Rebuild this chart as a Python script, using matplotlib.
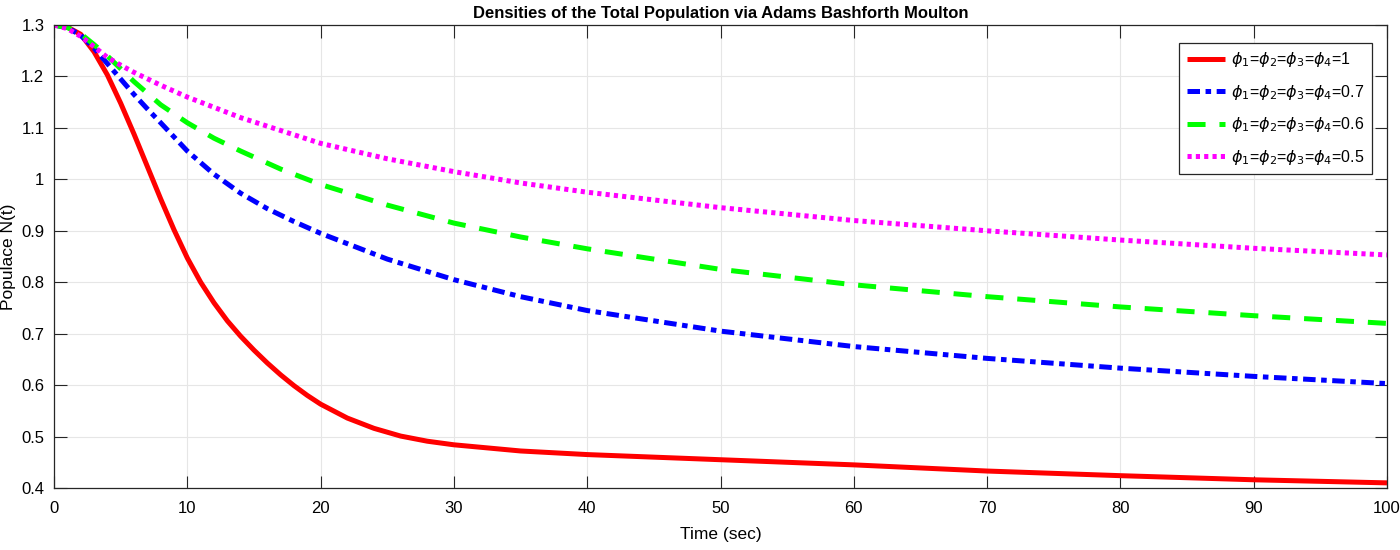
import matplotlib
matplotlib.use("Agg")
import matplotlib.pyplot as plt

plt.rcParams['font.family'] = ['Liberation Sans', 'DejaVu Sans']
plt.rcParams['lines.scale_dashes'] = False
plt.rcParams['mathtext.fontset'] = 'dejavusans'

t_red = [0, 1, 2, 3, 4, 5, 6, 7, 8, 9, 10, 11, 12, 13, 14, 15, 16, 17, 18, 19, 20, 22, 24, 26, 28, 30, 35, 40, 50, 60, 70, 80, 90, 100]
y_red = [1.30, 1.296, 1.282, 1.248, 1.203, 1.148, 1.088, 1.025, 0.962, 0.902, 0.847, 0.800, 0.760, 0.725, 0.695, 0.668, 0.643, 0.620, 0.599, 0.580, 0.563, 0.536, 0.516, 0.501, 0.491, 0.484, 0.472, 0.465, 0.455, 0.445, 0.433, 0.424, 0.416, 0.41]

t_blue = [0, 1, 2, 3, 4, 5, 6, 7, 8, 10, 12, 14, 16, 18, 20, 25, 30, 35, 40, 50, 60, 70, 80, 90, 100]
y_blue = [1.30, 1.295, 1.28, 1.255, 1.225, 1.195, 1.165, 1.137, 1.11, 1.055, 1.01, 0.973, 0.943, 0.918, 0.895, 0.845, 0.805, 0.772, 0.745, 0.705, 0.675, 0.652, 0.633, 0.617, 0.603]

t_green = [0, 1, 2, 3, 4, 5, 6, 8, 10, 12, 14, 17, 20, 25, 30, 35, 40, 50, 60, 70, 80, 90, 100]
y_green = [1.30, 1.295, 1.283, 1.262, 1.24, 1.215, 1.19, 1.145, 1.11, 1.08, 1.055, 1.02, 0.99, 0.95, 0.915, 0.888, 0.865, 0.825, 0.795, 0.772, 0.752, 0.735, 0.72]

t_mag = [0, 1, 2, 3, 4, 5, 6, 8, 10, 12, 14, 17, 20, 25, 30, 35, 40, 50, 60, 70, 80, 90, 100]
y_mag = [1.30, 1.293, 1.278, 1.258, 1.237, 1.222, 1.208, 1.183, 1.16, 1.14, 1.12, 1.095, 1.07, 1.04, 1.015, 0.993, 0.975, 0.945, 0.92, 0.90, 0.882, 0.866, 0.853]

labels = [r'$\phi_1$=$\phi_2$=$\phi_3$=$\phi_4$=1',
          r'$\phi_1$=$\phi_2$=$\phi_3$=$\phi_4$=0.7',
          r'$\phi_1$=$\phi_2$=$\phi_3$=$\phi_4$=0.6',
          r'$\phi_1$=$\phi_2$=$\phi_3$=$\phi_4$=0.5']

fig = plt.figure(figsize=(14, 5.5), dpi=100)
ax = fig.add_axes([0.0386, 0.1127, 0.9521, 0.8418])

lw = 3.6
ax.plot(t_red, y_red, color='#ff0000', lw=lw, label=labels[0], solid_capstyle='butt', solid_joinstyle='round')
ax.plot(t_blue, y_blue, color='#0000ff', lw=lw, linestyle=(0, (9, 4, 4, 4)), label=labels[1], dash_capstyle='butt')
ax.plot(t_green, y_green, color='#00ff00', lw=lw, linestyle=(0, (13, 10)), label=labels[2], dash_capstyle='butt')
ax.plot(t_mag, y_mag, color='#ff00ff', lw=lw, linestyle=(0, (3, 3)), label=labels[3], dash_capstyle='butt')

ax.set_xlim(0, 100)
ax.set_ylim(0.4, 1.3)
ax.set_xticks(range(0, 101, 10))
ax.set_yticks([0.4, 0.5, 0.6, 0.7, 0.8, 0.9, 1.0, 1.1, 1.2, 1.3])
ax.set_yticklabels(['0.4', '0.5', '0.6', '0.7', '0.8', '0.9', '1', '1.1', '1.2', '1.3'])
ax.tick_params(direction='in', top=True, right=True, labelsize=12, length=9, width=0.8, colors='#262626')
ax.tick_params(axis='both', labelcolor='black')
ax.tick_params(axis='x', pad=9)
ax.tick_params(axis='y', pad=7)
ax.grid(True, color='#e6e6e6', lw=0.8)
ax.set_axisbelow(True)
for s in ax.spines.values():
    s.set_color('#262626')
    s.set_linewidth(0.9)

ax.set_title('Densities of the Total Population via Adams Bashforth Moulton', fontsize=12, fontweight='bold', pad=5)
ax.set_xlabel('Time (sec)', fontsize=12.5, labelpad=8)
ax.set_ylabel('Populace N(t)', fontsize=12.5, labelpad=4)

leg = ax.legend(loc='upper right', bbox_to_anchor=(0.9887, 0.961), borderaxespad=0, fontsize=11.5, frameon=True,
                fancybox=False, edgecolor='#262626', framealpha=1, handlelength=2.4,
                handletextpad=0.4, labelspacing=0.85, borderpad=0.45)
leg.get_frame().set_linewidth(0.9)

fig.savefig('out.png', dpi=100)
